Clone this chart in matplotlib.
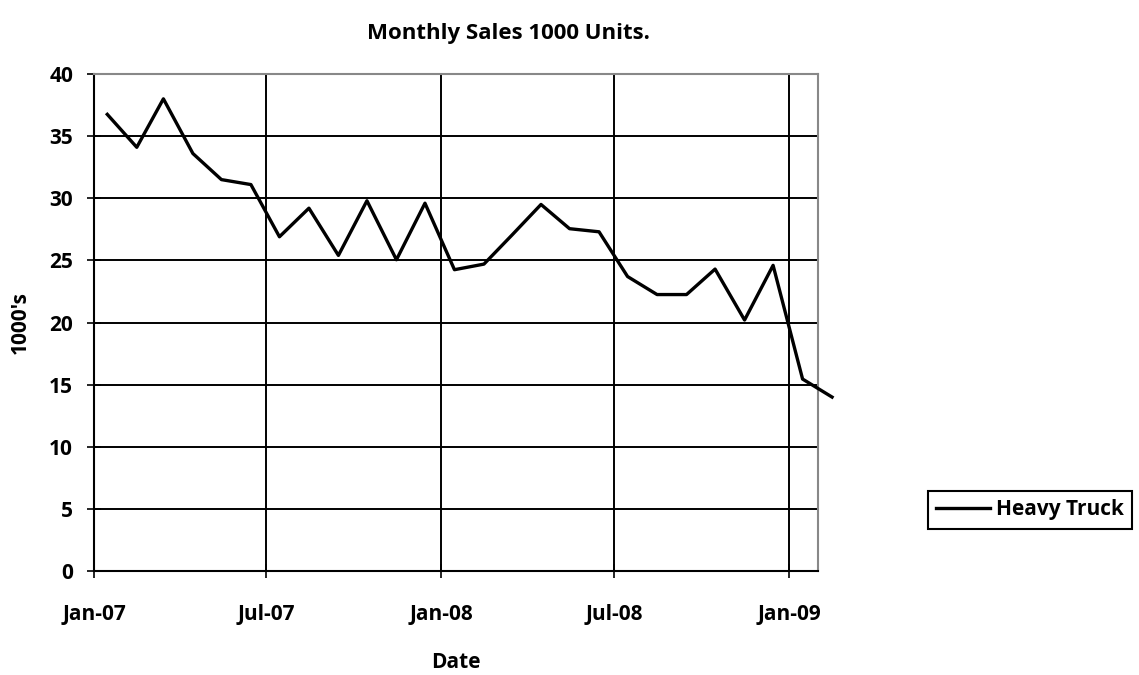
import numpy as np
import pandas as pd
import matplotlib
matplotlib.use("Agg")
import matplotlib.pyplot as plt
import matplotlib.dates as mdates

# monthly heavy truck sales, thousands of units (Jan-07 .. Feb-09)
months = pd.date_range("2007-01-01", periods=26, freq="MS") + pd.Timedelta(days=14)
heavy_truck = [36.75, 34.1, 38.0, 33.6, 31.5, 31.1, 26.9, 29.2, 25.4, 29.8, 25.05, 29.6,
               24.25, 24.7, 27.0, 29.5, 27.55, 27.3, 23.7, 22.25, 22.25, 24.3, 20.2, 24.6,
               15.45, 14.0]
tick_dates = pd.to_datetime(["2007-01-01", "2007-07-01", "2008-01-01", "2008-07-01", "2009-01-01"])
y_ticks = [0, 5, 10, 15, 20, 25, 30, 35, 40]

plt.rcParams['font.family'] = ['Open Sans', 'DejaVu Sans']
plt.rcParams['font.weight'] = 'bold'

fig = plt.figure(figsize=(11.39, 6.75), dpi=100)
ax = fig.add_axes([0.0825, 0.154, 0.718 - 0.0825, 0.8904 - 0.154])

ax.plot(months, heavy_truck, color='black', lw=2.4, label='Heavy Truck', clip_on=False, zorder=5)

ax.set_xlim(pd.Timestamp("2007-01-01"), pd.Timestamp("2009-01-31"))
ax.set_ylim(0, 40)
ax.set_yticks(y_ticks)
ax.set_xticks(tick_dates)
ax.xaxis.set_major_formatter(mdates.DateFormatter('%b-%y'))

ax.grid(True, color='black', lw=1.4)
ax.set_axisbelow(True)
for s in ['top', 'right']:
    ax.spines[s].set_color('#888888')
    ax.spines[s].set_linewidth(1.5)
for s in ['left', 'bottom']:
    ax.spines[s].set_color('black')
    ax.spines[s].set_linewidth(1.5)

ax.tick_params(axis='y', direction='inout', length=10, width=1.2, pad=10, labelsize=15)
ax.tick_params(axis='x', direction='inout', length=10, width=1.2, pad=19, labelsize=15)
for lbl in ax.get_xticklabels() + ax.get_yticklabels():
    lbl.set_fontweight('bold')

ax.set_xlabel('Date', fontsize=15, fontweight='bold', labelpad=19)
ax.set_ylabel("1000's", fontsize=15, fontweight='bold', labelpad=13)

fig.text(508 / 1139, 1 - 34 / 675, 'Monthly Sales 1000 Units.', ha='center', va='center',
         fontsize=16, fontweight='bold')

leg = fig.legend(loc='center', bbox_to_anchor=(1030 / 1139, 1 - 510 / 675), fontsize=15,
                 handlelength=2.6, fancybox=False, framealpha=1, edgecolor='black',
                 borderpad=0.4, handletextpad=0.3)
leg.get_frame().set_linewidth(1.5)
for t in leg.get_texts():
    t.set_fontweight('bold')

fig.savefig('out.png', dpi=100)
